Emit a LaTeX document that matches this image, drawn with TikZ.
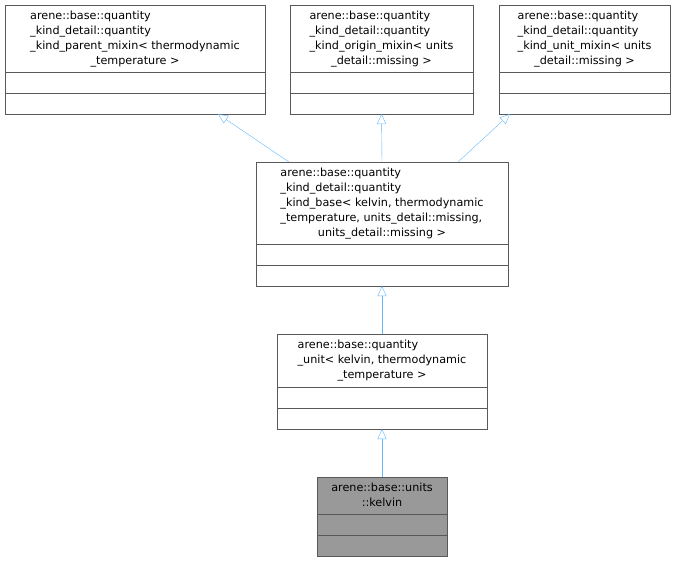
\documentclass[tikz,border=0pt]{standalone}
\usepackage{fontspec}
\setmainfont{DejaVu Sans}
\usetikzlibrary{arrows.meta,positioning}
\newcommand{\clsend}[1]{\multicolumn{1}{@{}c@{}}{#1}}
\begin{document}
\begin{tikzpicture}[
    x=1pt, y=-1pt,
    cls/.style={draw=black!65, fill=white, inner sep=1pt, outer sep=0pt,
        font=\fontsize{11.2}{15}\selectfont, anchor=north west},
    part/.style={draw=black!65, fill=white, inner sep=0, outer sep=0pt, minimum height=21pt},
    inh/.style={draw={rgb,255:red,99;green,184;blue,255}, -{Triangle[open, length=10pt, width=9pt]}}]
\useasboundingbox (0,0) rectangle (676,563);
% parents
\node[cls, minimum width=260pt, minimum height=67pt] (p1) at (5,5)
    {\begin{tabular}{@{}l@{}}arene::base::quantity\\\_kind\_detail::quantity\\\_kind\_parent\_mixin< thermodynamic\\\clsend{\_temperature >}\end{tabular}};
\node[part, minimum width=260pt, below=0pt of p1] (p1a) {};
\node[part, minimum width=260pt, below=0pt of p1a] (p1b) {};
\node[cls, minimum width=183pt, minimum height=67pt] (p2) at (290,5)
    {\begin{tabular}{@{}l@{}}arene::base::quantity\\\_kind\_detail::quantity\\\_kind\_origin\_mixin< units\\\clsend{\_detail::missing >}\end{tabular}};
\node[part, minimum width=183pt, below=0pt of p2] (p2a) {};
\node[part, minimum width=183pt, below=0pt of p2a] (p2b) {};
\node[cls, minimum width=171pt, minimum height=67pt] (p3) at (499,5)
    {\begin{tabular}{@{}l@{}}arene::base::quantity\\\_kind\_detail::quantity\\\_kind\_unit\_mixin< units\\\clsend{\_detail::missing >}\end{tabular}};
\node[part, minimum width=171pt, below=0pt of p3] (p3a) {};
\node[part, minimum width=171pt, below=0pt of p3a] (p3b) {};
% base
\node[cls, minimum width=252pt, minimum height=82pt] (base) at (256,162)
    {\begin{tabular}{@{}l@{}}arene::base::quantity\\\_kind\_detail::quantity\\\_kind\_base< kelvin, thermodynamic\\\_temperature, units\_detail::missing,\\\clsend{units\_detail::missing >}\end{tabular}};
\node[part, minimum width=252pt, below=0pt of base] (basea) {};
\node[part, minimum width=252pt, below=0pt of basea] (baseb) {};
% unit
\node[cls, minimum width=210pt, minimum height=53pt] (unit) at (277,334)
    {\begin{tabular}{@{}l@{}}arene::base::quantity\\\_unit< kelvin, thermodynamic\\\clsend{\_temperature >}\end{tabular}};
\node[part, minimum width=210pt, below=0pt of unit] (unita) {};
\node[part, minimum width=210pt, below=0pt of unita] (unitb) {};
% kelvin
\node[cls, fill=black!40, minimum width=130pt, minimum height=37pt] (kel) at (317,477)
    {\begin{tabular}{@{}l@{}}arene::base::units\\\clsend{::kelvin}\end{tabular}};
\node[part, fill=black!40, minimum width=130pt, below=0pt of kel] (kela) {};
\node[part, fill=black!40, minimum width=130pt, below=0pt of kela] (kelb) {};
% inheritance
\draw[inh] ([xshift=-93pt]base.north) -- ([xshift=83pt]p1b.south);
\draw[inh] (base.north) -- (p2b.south);
\draw[inh] ([xshift=76pt]base.north) -- ([xshift=-74.5pt]p3b.south);
\draw[inh] (unit.north) -- (baseb.south);
\draw[inh] (kel.north) -- (unitb.south);
\end{tikzpicture}
\end{document}
